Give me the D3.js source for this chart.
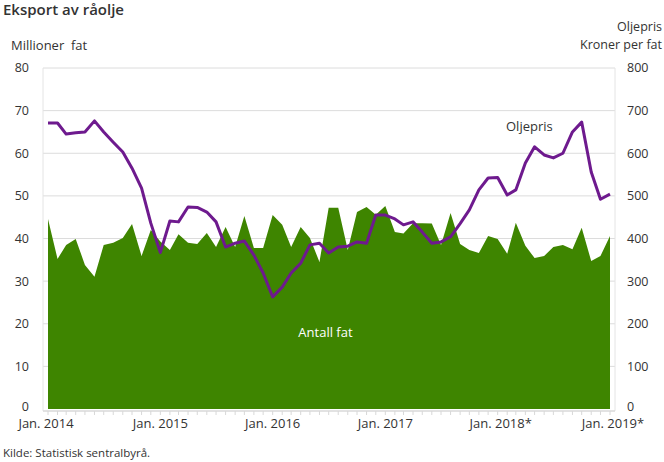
<!DOCTYPE html>
<html>
<head>
<meta charset="utf-8">
<script src="https://cdn.jsdelivr.net/npm/d3@7"></script>
<style>
  body { margin: 0; background: #fff; }
  text { font-family: "Open Sans", sans-serif; fill: #333; }
</style>
</head>
<body>
<svg id="chart" width="664" height="462"></svg>
<script>
// Monthly data, Jan 2014 – Jan 2019
const startMonth = "2014-01";
const exportVolume = [
  44.6, 35.2, 38.5, 39.9, 33.8, 31.0, 38.5, 39.0, 40.1, 43.4, 35.9, 42.0,
  39.3, 37.3, 41.0, 39.0, 38.7, 41.3, 38.0, 42.7, 38.0, 45.3, 37.8, 37.8,
  45.5, 43.2, 38.0, 42.7, 40.1, 34.5, 47.2, 47.2, 37.3, 46.2, 47.4, 45.6,
  47.6, 41.5, 41.2, 43.6, 43.6, 43.5, 38.5, 46.0, 38.7, 37.3, 36.6, 40.6,
  39.9, 36.4, 43.7, 38.3, 35.4, 35.9, 38.0, 38.5, 37.5, 42.5, 34.7, 35.9,
  40.6
];
const oilPrice = [
  671, 671, 645, 648, 650, 676, 650, 626, 603, 565, 518, 436,
  367, 441, 439, 474, 473, 462, 439, 380, 389, 394, 361, 319,
  263, 286, 319, 342, 385, 389, 366, 380, 382, 392, 389, 455,
  455, 446, 432, 439, 415, 389, 392, 404, 435, 467, 514, 542,
  543, 502, 514, 577, 615, 596, 589, 600, 650, 673, 556, 492,
  504
];
const leftTicks = [0, 10, 20, 30, 40, 50, 60, 70, 80];
const rightTicks = [0, 100, 200, 300, 400, 500, 600, 700, 800];
const xTickLabels = ["Jan. 2014", "Jan. 2015", "Jan. 2016", "Jan. 2017", "Jan. 2018*", "Jan. 2019*"];

const parse = d3.timeParse("%Y-%m");
const start = parse(startMonth);
const dates = exportVolume.map((_, i) => d3.timeMonth.offset(start, i));
const data = dates.map((d, i) => ({ date: d, vol: exportVolume[i], price: oilPrice[i] }));

const svg = d3.select("#chart");
const plot = { left: 48, right: 610, top: 68, bottom: 409 };

const x = d3.scaleTime().domain([dates[0], dates[dates.length - 1]]).range([plot.left, plot.right]);
const yL = d3.scaleLinear().domain([0, 80]).range([plot.bottom, plot.top]);
const yR = d3.scaleLinear().domain([0, 800]).range([plot.bottom, plot.top]);

// gridlines
svg.append("g").selectAll("line").data(leftTicks.slice(1)).join("line")
  .attr("x1", 43).attr("x2", 615)
  .attr("y1", d => yL(d)).attr("y2", d => yL(d))
  .attr("stroke", "#dcdcdc").attr("stroke-width", 1);

// side lines
[43, 615].forEach(xx => {
  svg.append("line").attr("x1", xx).attr("x2", xx).attr("y1", plot.top).attr("y2", 411)
    .attr("stroke", "#e4e4e4").attr("stroke-width", 1);
});

// area
const area = d3.area().x(d => x(d.date)).y0(yL(0)).y1(d => yL(d.vol));
svg.append("path").datum(data).attr("d", area).attr("fill", "#3e8500");

// baseline axis
svg.append("line").attr("x1", 43).attr("x2", 615).attr("y1", 411).attr("y2", 411)
  .attr("stroke", "#d8d8d8").attr("stroke-width", 1.5);

// minor ticks each month
svg.append("g").selectAll("line").data(dates).join("line")
  .attr("x1", d => x(d)).attr("x2", d => x(d))
  .attr("y1", 411).attr("y2", 415)
  .attr("stroke", "#d8d8d8").attr("stroke-width", 1);

// price line
const line = d3.line().x(d => x(d.date)).y(d => yR(d.price));
svg.append("path").datum(data).attr("d", line)
  .attr("fill", "none").attr("stroke", "#6e1a8e").attr("stroke-width", 3)
  .attr("stroke-linejoin", "round");

// left tick labels
svg.append("g").selectAll("text").data(leftTicks).join("text")
  .attr("x", 29).attr("y", d => yL(d) - (d === 0 ? 2 : 0)).attr("dy", "0.35em")
  .attr("text-anchor", "end").attr("font-size", 12.5).text(d => d);

// right tick labels
svg.append("g").selectAll("text").data(rightTicks).join("text")
  .attr("x", 627).attr("y", d => yR(d) - (d === 0 ? 2 : 0)).attr("dy", "0.35em")
  .attr("text-anchor", "start").attr("font-size", 12.5).text(d => d);

// x labels
const janDates = xTickLabels.map((_, i) => d3.timeYear.offset(start, i));
svg.append("g").selectAll("text").data(xTickLabels).join("text")
  .attr("x", (d, i) => x(janDates[i]) + (i === 0 ? -2 : 0) + (d.endsWith("*") ? 3 : 0))
  .attr("y", 428).attr("text-anchor", "middle").attr("font-size", 13).text(d => d);

// titles
svg.append("text").attr("x", 3).attr("y", 15).attr("font-size", 15).attr("font-weight", 600)
  .text("Eksport av råolje");
svg.append("text").attr("x", 11).attr("y", 50).attr("font-size", 13).text("Millioner  fat").style("white-space", "pre");
svg.append("text").attr("x", 662).attr("y", 31).attr("font-size", 12.5).attr("text-anchor", "end").text("Oljepris");
svg.append("text").attr("x", 662).attr("y", 49).attr("font-size", 12.5).attr("text-anchor", "end").text("Kroner per fat");

// series labels
svg.append("text").attr("x", x(d3.timeMonth.offset(start, 51)) + 4).attr("y", 131)
  .attr("text-anchor", "middle").attr("font-size", 13).text("Oljepris");
svg.append("text").attr("x", x(d3.timeMonth.offset(start, 29)) + 6).attr("y", 337)
  .attr("text-anchor", "middle").attr("font-size", 13).style("fill", "#fff").text("Antall fat");

// source
svg.append("text").attr("x", 3).attr("y", 457).attr("font-size", 11.5).text("Kilde: Statistisk sentralbyrå.");
</script>
</body>
</html>
